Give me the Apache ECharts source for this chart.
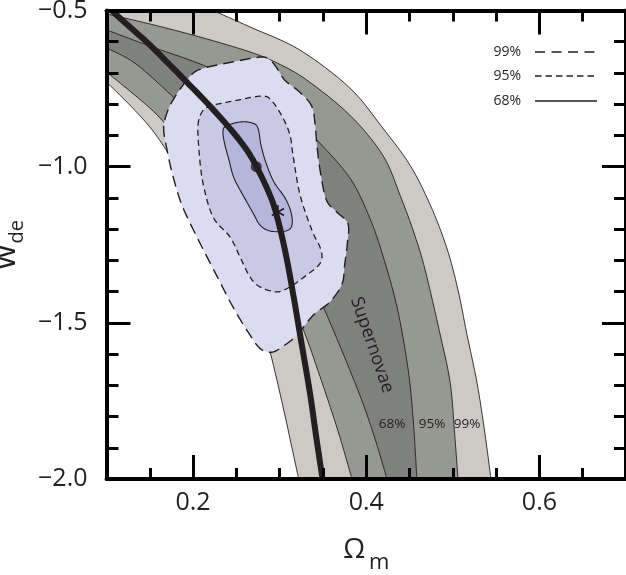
<!DOCTYPE html>
<html><head><meta charset="utf-8">
<script src="https://cdn.jsdelivr.net/npm/echarts@6/dist/echarts.min.js"></script>
<style>html,body{margin:0;padding:0;background:#fff}#c{width:626px;height:575px}</style>
</head><body><div id="c"></div>
<script>
// ---- axis ticks / labels ----
const xTickCats = ['0.1','0.15','0.2','0.25','0.3','0.35','0.4','0.45','0.5','0.55','0.6','0.65','0.7'];
const xMajorTicks = ['0.2','0.4','0.6'];
const yTickValues = [-2.0, -1.5, -1.0, -0.5];
const yTickLabels = ['\u22122.0', '\u22121.5', '\u22121.0', '\u22120.5'];

// ---- supernovae confidence band boundaries [Omega_m, w] ----
const sn99Left = [[0.100,-0.729],[0.127,-0.803],[0.150,-0.873],[0.169,-0.947],[0.196,-1.068],[0.225,-1.196],[0.254,-1.337],[0.275,-1.465],[0.289,-1.594],[0.304,-1.770],[0.314,-1.898],[0.322,-2.0]];
const sn95Left = [[0.100,-0.697],[0.127,-0.758],[0.150,-0.812],[0.168,-0.863],[0.196,-0.953],[0.231,-1.065],[0.266,-1.193],[0.300,-1.353],[0.326,-1.513],[0.344,-1.651],[0.367,-1.843],[0.3835,-2.0]];
const sn68Left = [[0.100,-0.620],[0.134,-0.671],[0.181,-0.787],[0.2195,-0.889],[0.260,-1.017],[0.300,-1.187],[0.329,-1.325],[0.352,-1.459],[0.389,-1.706],[0.408,-1.853],[0.424,-2.0]];
const sn68Right = [[0.100,-0.562],[0.150,-0.614],[0.208,-0.671],[0.266,-0.742],[0.312,-0.825],[0.341,-0.908],[0.381,-1.036],[0.404,-1.164],[0.419,-1.283],[0.4355,-1.449],[0.448,-1.642],[0.454,-1.802],[0.4585,-2.0]];
const sn95Right = [[0.100,-0.511],[0.150,-0.543],[0.208,-0.585],[0.266,-0.633],[0.297,-0.668],[0.3315,-0.723],[0.381,-0.835],[0.419,-0.963],[0.439,-1.091],[0.456,-1.219],[0.468,-1.331],[0.485,-1.533],[0.497,-1.693],[0.502,-1.853],[0.506,-2.0]];
const sn99Right = [[0.223,-0.5],[0.266,-0.553],[0.323,-0.626],[0.381,-0.748],[0.419,-0.876],[0.4505,-0.995],[0.474,-1.123],[0.493,-1.260],[0.506,-1.395],[0.516,-1.533],[0.528,-1.693],[0.537,-1.853],[0.544,-2.0]];

// ---- combined-constraint contours (closed) ----
const cmb99 = [[0.186,-0.748],[0.199,-0.703],[0.213,-0.684],[0.245,-0.665],[0.278,-0.649],[0.289,-0.659],[0.296,-0.681],[0.306,-0.723],[0.323,-0.761],[0.337,-0.806],[0.341,-0.867],[0.343,-0.931],[0.347,-1.017],[0.354,-1.107],[0.366,-1.145],[0.379,-1.184],[0.378,-1.251],[0.375,-1.315],[0.372,-1.376],[0.358,-1.433],[0.339,-1.475],[0.320,-1.539],[0.306,-1.571],[0.291,-1.594],[0.277,-1.581],[0.262,-1.523],[0.246,-1.449],[0.228,-1.353],[0.208,-1.245],[0.188,-1.129],[0.177,-1.033],[0.170,-0.947],[0.166,-0.876],[0.171,-0.819],[0.179,-0.777]];
const cmb95 = [[0.2057,-0.867],[0.2103,-0.825],[0.2195,-0.806],[0.2461,-0.790],[0.2796,-0.774],[0.2911,-0.790],[0.3038,-0.844],[0.3119,-0.899],[0.3154,-0.963],[0.3211,-1.059],[0.3269,-1.123],[0.3385,-1.212],[0.3465,-1.257],[0.3488,-1.293],[0.3431,-1.321],[0.3234,-1.363],[0.3119,-1.385],[0.2969,-1.401],[0.2773,-1.385],[0.2657,-1.353],[0.2542,-1.289],[0.2426,-1.225],[0.2230,-1.161],[0.2114,-1.052],[0.2068,-0.947]];
const cmb68 = [[0.2345,-0.889],[0.2380,-0.870],[0.2542,-0.857],[0.2680,-0.860],[0.2749,-0.876],[0.2784,-0.931],[0.2842,-0.988],[0.2934,-1.049],[0.3061,-1.100],[0.3130,-1.145],[0.3142,-1.187],[0.3073,-1.206],[0.2888,-1.206],[0.2773,-1.187],[0.2692,-1.148],[0.2588,-1.097],[0.2472,-1.036],[0.2415,-0.979],[0.2368,-0.931]];

// ---- flat-universe curve and markers ----
const flatCurve = [[0.106,-0.5],[0.127,-0.553],[0.150,-0.610],[0.188,-0.716],[0.2195,-0.806],[0.2507,-0.905],[0.2692,-0.979],[0.2888,-1.091],[0.298,-1.171],[0.3073,-1.283],[0.3154,-1.405],[0.3246,-1.555],[0.335,-1.725],[0.3419,-1.859],[0.3495,-2.0]];
const dotPoint = [[0.273,-1.0]];
const starPoint = [[0.298,-1.145]];

const F = '"Open Sans", "DejaVu Sans", sans-serif';
const INK = '#231f20';

// Catmull-Rom smoothing of already-projected pixel points
function spline(px, closed) {
  const n = px.length, out = [], N = 8;
  const segs = closed ? n : n - 1;
  const at = function (i) { return closed ? px[(i + n) % n] : px[Math.max(0, Math.min(n - 1, i))]; };
  for (let i = 0; i < segs; i++) {
    const p0 = at(i - 1), p1 = at(i), p2 = at(i + 1), p3 = at(i + 2);
    for (let k = 0; k < N; k++) {
      const t = k / N, t2 = t * t, t3 = t2 * t;
      out.push([0, 1].map(function (d) {
        return 0.5 * (2 * p1[d] + (-p0[d] + p2[d]) * t + (2 * p0[d] - 5 * p1[d] + 4 * p2[d] - p3[d]) * t2 + (-p0[d] + 3 * p1[d] - 3 * p2[d] + p3[d]) * t3);
      }));
    }
  }
  if (!closed) out.push(px[n - 1]);
  return out;
}
function proj(api, pts) { return pts.map(function (p) { return api.coord(p); }); }

function customSeries(z, data, render) {
  return { type: 'custom', coordinateSystem: 'cartesian2d', xAxisIndex: 0, yAxisIndex: 0,
    silent: true, clip: true, z: z, data: data, renderItem: render };
}
function bandSeries(left, right, extra, fill) {
  return customSeries(1, [left[0]], function (params, api) {
    const pts = spline(proj(api, left), false)
      .concat(spline(proj(api, right), false).reverse())
      .concat(proj(api, extra));
    return { type: 'polygon', shape: { points: pts }, style: { fill: fill } };
  });
}
function curveSeries(pts, width, z) {
  return customSeries(z, [pts[0]], function (params, api) {
    return { type: 'polyline', shape: { points: spline(proj(api, pts), false) },
      style: { stroke: INK, lineWidth: width, fill: null, lineJoin: 'round' } };
  });
}
function contourSeries(pts, style) {
  return customSeries(3, [pts[0]], function (params, api) {
    return { type: 'polygon', shape: { points: spline(proj(api, pts), true) }, style: style };
  });
}

const tickFnX = function (i, v) { return xMajorTicks.indexOf(v) >= 0; };
const minorXAxis = function (pos) {
  return { type: 'value', min: 0.1, max: 0.7, interval: 0.05, position: pos, z: 10,
    axisLine: { show: true, onZero: false, lineStyle: { color: '#000', width: 4 } },
    axisTick: { show: true, inside: true, length: 11, lineStyle: { color: '#000', width: 3 } },
    axisLabel: { show: false }, splitLine: { show: false } };
};
const majorXAxis = function (pos, withLabels) {
  const ax = { type: 'category', data: xTickCats, boundaryGap: false, position: pos, z: 10,
    axisLine: { show: false },
    axisTick: { show: true, inside: true, length: 24, interval: tickFnX, lineStyle: { color: '#000', width: 3 } },
    axisLabel: { show: withLabels, interval: tickFnX, fontSize: 25, fontFamily: F, color: INK, margin: 11 },
    splitLine: { show: false } };
  if (withLabels) {
    ax.name = '{o|\u03A9}{m|m}';
    ax.nameLocation = 'middle';
    ax.nameGap = 57;
    ax.nameTextStyle = { rich: {
      o: { fontSize: 28, fontFamily: F, color: INK, lineHeight: 32, verticalAlign: 'top' },
      m: { fontSize: 22, fontFamily: F, color: INK, lineHeight: 22, verticalAlign: 'top', padding: [16, 0, 0, 4] } } };
  }
  return ax;
};
const yAxisDef = function (pos, withLabels) {
  const ax = { type: 'value', min: -2.0, max: -0.5, interval: 0.5, position: pos, z: 10,
    axisLine: { show: true, onZero: false, lineStyle: { color: '#000', width: 4 } },
    axisTick: { show: true, inside: true, length: 24, lineStyle: { color: '#000', width: 3 } },
    minorTick: { show: true, splitNumber: 5, length: 12, lineStyle: { color: '#000', width: 3 } },
    splitLine: { show: false }, minorSplitLine: { show: false },
    axisLabel: { show: withLabels, fontSize: 25, fontFamily: F, color: INK, margin: 19,
      formatter: function (v) { const i = yTickValues.findIndex(function (t) { return Math.abs(t - v) < 1e-6; }); return i >= 0 ? yTickLabels[i] : ''; } } };
  if (withLabels) {
    ax.name = '{w|w}{d|de}';
    ax.nameLocation = 'middle';
    ax.nameRotate = 90;
    ax.nameGap = 80;
    ax.nameTextStyle = { rich: {
      w: { fontSize: 32, fontFamily: F, color: INK, lineHeight: 34, verticalAlign: 'top' },
      d: { fontSize: 20, fontFamily: F, color: INK, lineHeight: 20, verticalAlign: 'top', padding: [17, 0, 0, 1] } } };
  }
  return ax;
};

const chart = echarts.init(document.getElementById('c'), null, { renderer: 'canvas' });
const option = {
  animation: false,
  backgroundColor: '#fff',
  grid: { left: 106.5, top: 10.5, right: 0, bottom: 96, containLabel: false, outerBoundsMode: 'none' },
  xAxis: [minorXAxis('bottom'), majorXAxis('bottom', true), minorXAxis('top'), majorXAxis('top', false)],
  yAxis: [yAxisDef('left', true), yAxisDef('right', false)],
  series: [
    bandSeries(sn99Left, sn99Right, [[0.1, -0.5]], '#cdc9c5'),
    bandSeries(sn95Left, sn95Right, [], '#969991'),
    bandSeries(sn68Left, sn68Right, [], '#7f817e'),
    curveSeries(sn99Left, 0.9, 2), curveSeries(sn95Left, 0.9, 2), curveSeries(sn68Left, 0.9, 2),
    curveSeries(sn68Right, 0.9, 2), curveSeries(sn95Right, 0.9, 2), curveSeries(sn99Right, 0.9, 2),
    contourSeries(cmb99, { fill: '#dcdcf0', stroke: INK, lineWidth: 1.4, lineDash: [11, 6] }),
    contourSeries(cmb95, { fill: '#c9c9e6', stroke: INK, lineWidth: 1.3, lineDash: [6, 4] }),
    contourSeries(cmb68, { fill: '#b6b5dc', stroke: INK, lineWidth: 1.1 }),
    curveSeries(flatCurve, 6, 5),
    { type: 'scatter', data: dotPoint, xAxisIndex: 0, yAxisIndex: 0, symbol: 'circle', symbolSize: 11, silent: true, z: 6,
      itemStyle: { color: INK } },
    customSeries(6, starPoint, function (params, api) {
      const c = api.coord([api.value(0), api.value(1)]);
      const r = 7, kids = [];
      [90, 30, 150].forEach(function (a) {
        const t = a * Math.PI / 180;
        kids.push({ type: 'line', shape: { x1: c[0] - r * Math.cos(t), y1: c[1] - r * Math.sin(t), x2: c[0] + r * Math.cos(t), y2: c[1] + r * Math.sin(t) },
          style: { stroke: INK, lineWidth: 1.6 } });
      });
      return { type: 'group', children: kids };
    })
  ],
  graphic: [
    { type: 'text', x: 521, y: 52, style: { text: '99%', fontSize: 14, fontFamily: F, fill: INK, align: 'right', verticalAlign: 'middle' } },
    { type: 'text', x: 521, y: 76, style: { text: '95%', fontSize: 14, fontFamily: F, fill: INK, align: 'right', verticalAlign: 'middle' } },
    { type: 'text', x: 521, y: 101, style: { text: '68%', fontSize: 14, fontFamily: F, fill: INK, align: 'right', verticalAlign: 'middle' } },
    { type: 'line', shape: { x1: 535, y1: 52, x2: 597, y2: 52 }, style: { stroke: INK, lineWidth: 1.5, lineDash: [10, 6.5] } },
    { type: 'line', shape: { x1: 535, y1: 76, x2: 597, y2: 76 }, style: { stroke: INK, lineWidth: 1.5, lineDash: [6.5, 4] } },
    { type: 'line', shape: { x1: 535, y1: 101, x2: 597, y2: 101 }, style: { stroke: INK, lineWidth: 1.5 } },
    { type: 'text', x: 372, y: 345, rotation: -71 * Math.PI / 180, z: 20,
      style: { text: 'Supernovae', fontSize: 18, fontFamily: F, fill: INK, align: 'center', verticalAlign: 'middle' } },
    { type: 'text', x: 392, y: 424, z: 20, style: { text: '68%', fontSize: 13.5, fontFamily: F, fill: INK, align: 'center', verticalAlign: 'middle' } },
    { type: 'text', x: 432, y: 424, z: 20, style: { text: '95%', fontSize: 13.5, fontFamily: F, fill: INK, align: 'center', verticalAlign: 'middle' } },
    { type: 'text', x: 467, y: 424, z: 20, style: { text: '99%', fontSize: 13.5, fontFamily: F, fill: INK, align: 'center', verticalAlign: 'middle' } }
  ]
};
chart.setOption(option);
</script></body></html>
